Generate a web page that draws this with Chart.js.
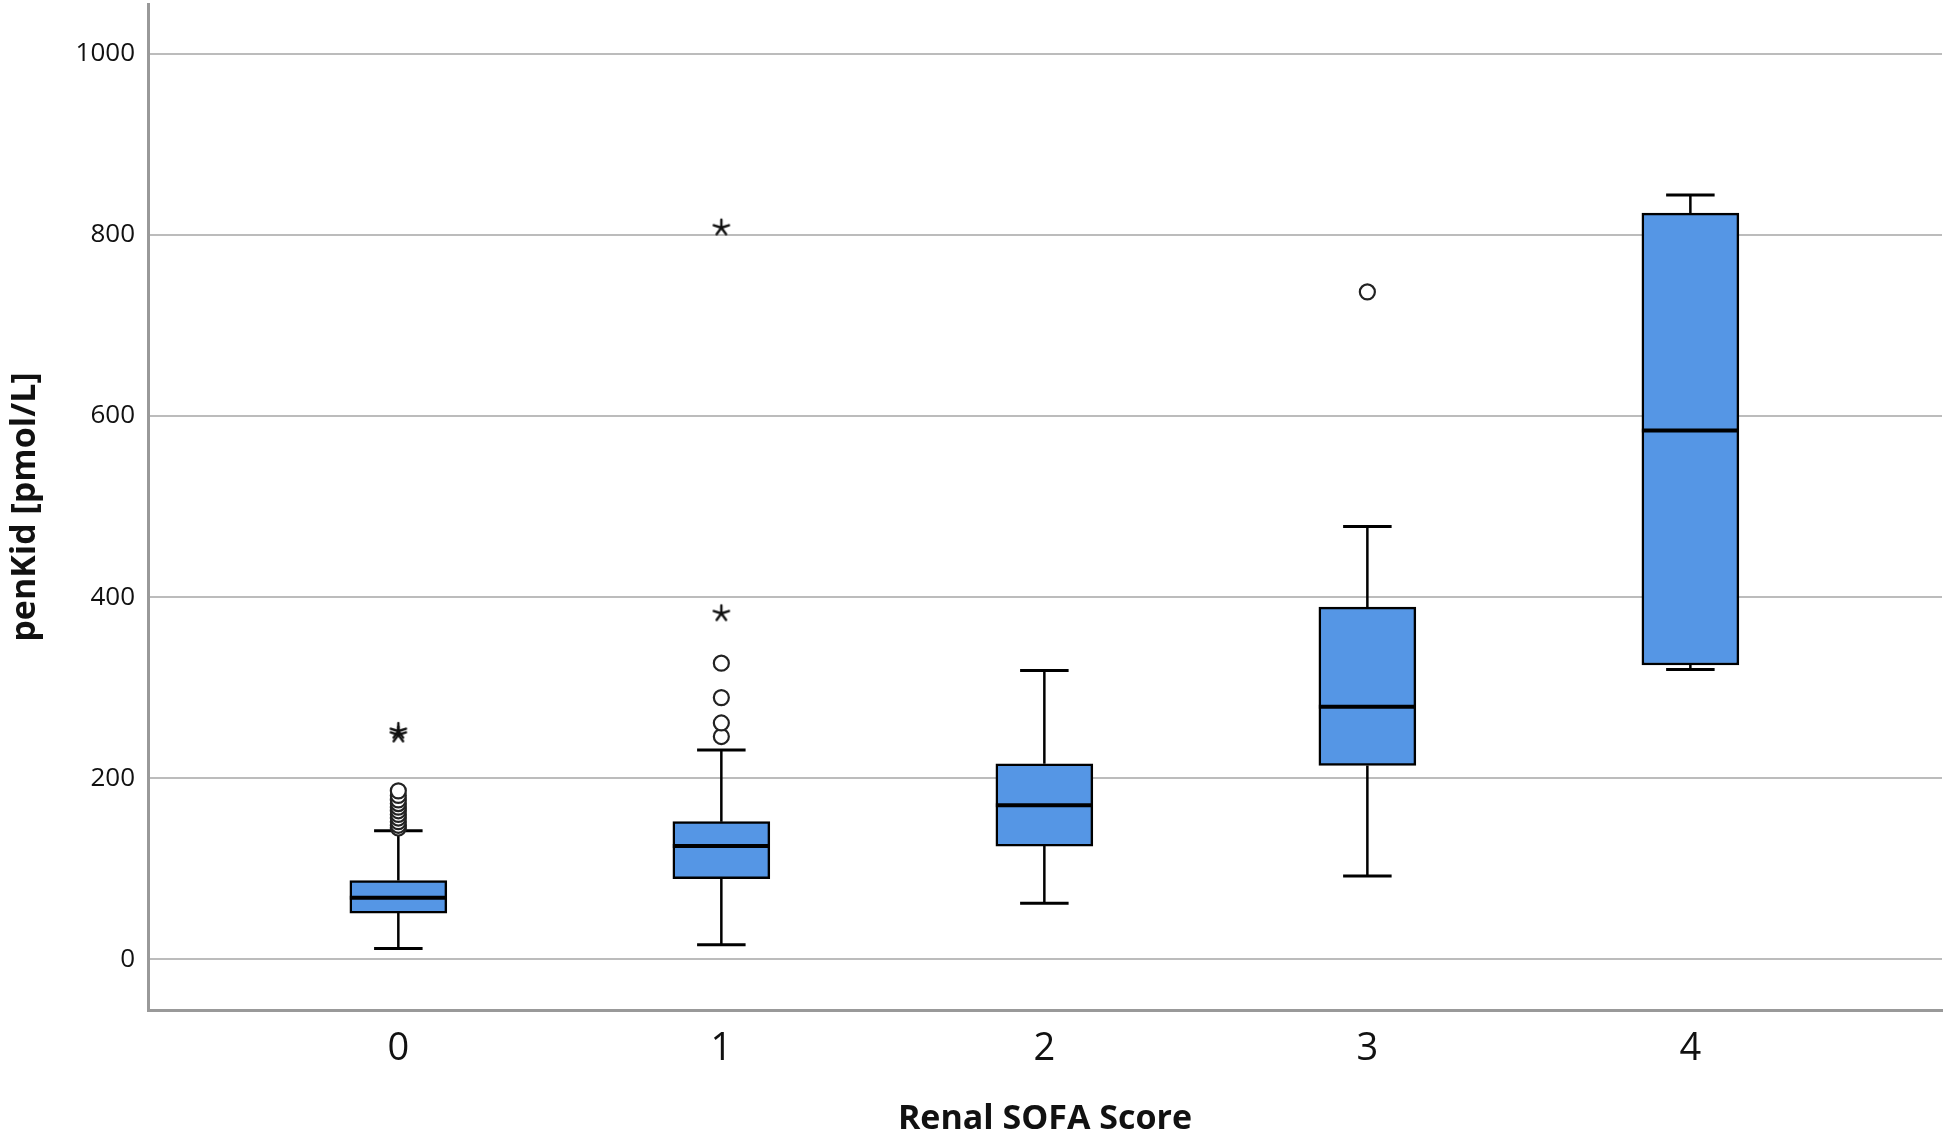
<!DOCTYPE html>
<html>
<head>
<meta charset="utf-8">
<script src="https://cdn.jsdelivr.net/npm/chart.js@4.4.1/dist/chart.umd.min.js"></script>
<style>
  body { margin: 0; background: #fff; }
  canvas { display: block; }
</style>
</head>
<body>
<canvas id="boxChart" width="1946" height="1136"></canvas>
<script>
const categories = [0, 1, 2, 3, 4];
const whiskerLow = [12, 16, 62, 92, 320];
const q1 = [51, 89, 125, 214, 325];
const median = [68, 125, 170, 279, 584];
const q3 = [87, 152, 216, 389, 824];
const whiskerHigh = [142, 231, 319, 478, 844];
const circleOutliers = [
    [145, 148, 152, 156, 160, 164, 168, 172, 176, 181, 186],
    [246, 261, 289, 327],
    [],
    [737],
    []
];
const starOutliers = [
    [248, 252],
    [382, 808],
    [],
    [],
    []
];
const yTicks = [0, 200, 400, 600, 800, 1000];

// asterisk marker like the one SPSS uses
const starImg = document.createElement('canvas');
starImg.width = 22;
starImg.height = 22;
const sctx = starImg.getContext('2d');
sctx.strokeStyle = '#111';
sctx.lineWidth = 2.4;
sctx.lineCap = 'round';
for (let k = 0; k < 5; k++) {
    const a = -Math.PI / 2 + k * 2 * Math.PI / 5;
    sctx.beginPath();
    sctx.moveTo(11, 11);
    sctx.lineTo(11 + 8 * Math.cos(a), 11 + 8 * Math.sin(a));
    sctx.stroke();
}

const circlePoints = [];
const starPoints = [];
categories.forEach((c, i) => {
    circleOutliers[i].forEach(v => circlePoints.push({ x: c, y: v }));
    starOutliers[i].forEach(v => starPoints.push({ x: c, y: v }));
});

const whiskerPlugin = {
    id: 'whiskers',
    afterDatasetDraw(chart, args) {
        if (args.index !== 0) return;
        const ctx = chart.ctx;
        const xs = chart.scales.x;
        const ys = chart.scales.y;
        const bars = chart.getDatasetMeta(0).data;
        ctx.save();
        ctx.strokeStyle = '#000';
        categories.forEach((c, i) => {
            const x = xs.getPixelForValue(c);
            const w = bars[i].width;
            const capHalf = w / 4;
            ctx.lineWidth = 2.5;
            ctx.beginPath();
            ctx.moveTo(x, ys.getPixelForValue(whiskerLow[i]));
            ctx.lineTo(x, ys.getPixelForValue(q1[i]));
            ctx.moveTo(x, ys.getPixelForValue(q3[i]));
            ctx.lineTo(x, ys.getPixelForValue(whiskerHigh[i]));
            ctx.stroke();
            ctx.lineWidth = 3;
            ctx.beginPath();
            ctx.moveTo(x - capHalf, ys.getPixelForValue(whiskerLow[i]));
            ctx.lineTo(x + capHalf, ys.getPixelForValue(whiskerLow[i]));
            ctx.moveTo(x - capHalf, ys.getPixelForValue(whiskerHigh[i]));
            ctx.lineTo(x + capHalf, ys.getPixelForValue(whiskerHigh[i]));
            ctx.stroke();
            ctx.lineWidth = 4;
            ctx.beginPath();
            ctx.moveTo(x - w / 2, ys.getPixelForValue(median[i]));
            ctx.lineTo(x + w / 2, ys.getPixelForValue(median[i]));
            ctx.stroke();
        });
        ctx.restore();
    }
};

const ctx = document.getElementById('boxChart').getContext('2d');
const boxChart = new Chart(ctx, {
    type: 'bar',
    data: {
        datasets: [{
            type: 'bar',
            order: 2,
            data: categories.map((c, i) => ({ x: c, y: [q1[i], q3[i]] })),
            backgroundColor: '#5596e5',
            borderColor: '#000',
            borderWidth: 2.5,
            borderSkipped: false,
            barThickness: 97
        }, {
            type: 'scatter',
            order: 1,
            data: circlePoints,
            pointStyle: 'circle',
            pointRadius: 7.5,
            pointBackgroundColor: '#fff',
            pointBorderColor: '#222',
            pointBorderWidth: 2.2
        }, {
            type: 'scatter',
            order: 1,
            data: starPoints,
            pointStyle: starImg,
            pointRadius: 8
        }]
    },
    options: {
        responsive: false,
        animation: false,
        layout: { padding: { top: 4, right: 4, left: 0, bottom: 0 }, autoPadding: false },
        plugins: {
            legend: { display: false },
            tooltip: { enabled: false }
        },
        scales: {
            x: {
                type: 'linear',
                offset: false,
                min: -0.775,
                max: 4.779,
                afterBuildTicks: scale => { scale.ticks = categories.map(v => ({ value: v })); },
                afterFit: scale => {
                    scale.height = 126;
                    scale.paddingLeft = 0;
                    scale.paddingRight = 0;
                },
                grid: { display: false },
                border: { display: true, color: '#999', width: 3 },
                ticks: {
                    padding: 8,
                    color: '#111',
                    font: { family: 'Open Sans', size: 38 },
                    callback: v => String(v)
                },
                title: {
                    display: true,
                    text: 'Renal SOFA Score',
                    color: '#111',
                    padding: { top: 0, bottom: -4 },
                    font: { family: 'Open Sans', size: 34, weight: 'bold' }
                }
            },
            y: {
                min: -56,
                max: 1055,
                afterBuildTicks: scale => { scale.ticks = yTicks.map(v => ({ value: v })); },
                afterFit: scale => {
                    scale.width = 148;
                    scale.paddingTop = 0;
                    scale.paddingBottom = 0;
                },
                grid: { color: '#bcbcbc', lineWidth: 2, drawTicks: false },
                border: { display: true, color: '#999', width: 3 },
                ticks: {
                    padding: 13,
                    color: '#111',
                    font: { family: 'Open Sans', size: 26 },
                    callback: v => String(v)
                },
                title: {
                    display: true,
                    text: 'penKid [pmol/L]',
                    color: '#111',
                    padding: { top: 5, bottom: 0 },
                    font: { family: 'Open Sans', size: 34, weight: 'bold' }
                }
            }
        }
    },
    plugins: [whiskerPlugin]
});
</script>
</body>
</html>
